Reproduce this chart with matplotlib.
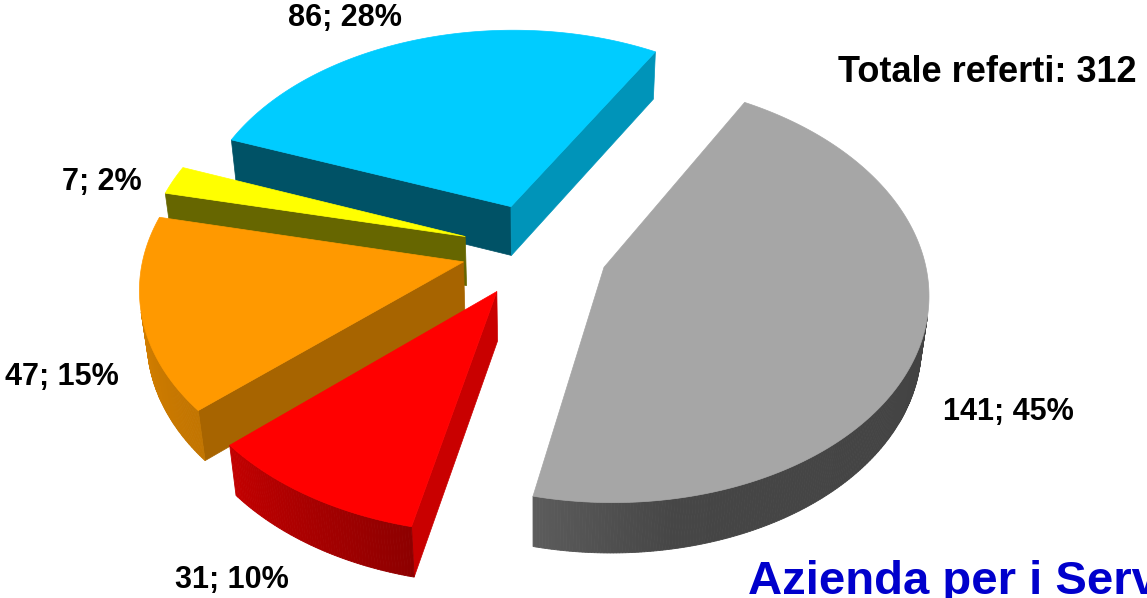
import numpy as np
import matplotlib
matplotlib.use("Agg")
import matplotlib.pyplot as plt
from matplotlib.patches import Polygon

# dati
valori = [141, 31, 47, 7, 86]
colori = ["#A6A6A6", "#FF0000", "#FF9900", "#FFFF00", "#00CCFF"]
totale = sum(valori)

# geometria della torta 3D (coordinate in pixel)
W, H = 1147, 598
CX, CY = 535, 250
S = 319.0
elev = np.radians(40.0)
D = 6.9
h = 0.205
expl = 0.23
start = 30.0

ce, se = np.cos(elev), np.sin(elev)
cam = np.array([0.0, D * ce, D * se])


def proj(X, Y, Z):
    d = Y * ce + Z * se
    k = D / (D - d)
    return CX + S * X * k, CY - S * (Z * ce - Y * se) * k


def shade(c, f):
    r, g, b = matplotlib.colors.to_rgb(c)
    return (min(r * f, 1), min(g * f, 1), min(b * f, 1))


def wall_f(t):
    t = t % 360
    return np.interp(t, [90, 170, 192, 228, 270], [0.40, 0.42, 0.55, 0.76, 0.85])


def face_f(phi):
    phi = phi % 360
    return np.interp(phi, [100, 140, 190, 210], [0.80, 0.65, 0.40, 0.40])


fig = plt.figure(figsize=(W / 100, H / 100), dpi=100)
ax = fig.add_axes([0, 0, 1, 1])
ax.set_xlim(0, W)
ax.set_ylim(H, 0)
ax.axis("off")

ang = np.cumsum([0] + valori) / totale * 360 + start
fette = []
for i in range(len(valori)):
    t1, t2 = ang[i], ang[i + 1]
    tm = np.radians((t1 + t2) / 2)
    ox, oy = expl * np.sin(tm), -expl * np.cos(tm)
    depth = oy - 0.5 * np.cos(tm)
    fette.append((depth, i, t1, t2, ox, oy))

for depth, i, t1, t2, ox, oy in sorted(fette):
    col = colori[i]
    tt = np.linspace(t1, t2, max(int((t2 - t1) * 2), 4))
    rad = np.radians(tt)
    X = ox + np.sin(rad)
    Y = oy - np.cos(rad)

    # facce radiali
    for t, sgn in ((t1, -1), (t2, 1)):
        r = np.radians(t)
        n = np.array([sgn * np.cos(r), sgn * np.sin(r), 0])
        p = np.array([ox + 0.5 * np.sin(r), oy - 0.5 * np.cos(r), -h / 2])
        if n @ (cam - p) > 0:
            xs = [ox, ox + np.sin(r), ox + np.sin(r), ox]
            ys = [oy, oy - np.cos(r), oy - np.cos(r), oy]
            zs = [0, 0, -h, -h]
            pts = [proj(a, b, c) for a, b, c in zip(xs, ys, zs)]
            phi = t + (90 if sgn > 0 else -90)
            fc = shade(col, face_f(phi))
            ax.add_patch(Polygon(pts, closed=True, fc=fc, ec=fc, lw=0.5))

    # parete esterna (a strisce per la sfumatura)
    for j in range(len(tt) - 1):
        tmid = np.radians((tt[j] + tt[j + 1]) / 2)
        n = np.array([np.sin(tmid), -np.cos(tmid), 0])
        p = np.array([ox + np.sin(tmid), oy - np.cos(tmid), -h / 2])
        if n @ (cam - p) <= 0:
            continue
        a = proj(X[j], Y[j], 0)
        b = proj(X[j + 1], Y[j + 1], 0)
        c = proj(X[j + 1], Y[j + 1], -h)
        d = proj(X[j], Y[j], -h)
        fc = shade(col, wall_f((tt[j] + tt[j + 1]) / 2))
        ax.add_patch(Polygon([a, b, c, d], closed=True, fc=fc, ec=fc, lw=0.6))

    # faccia superiore
    top = [proj(ox, oy, 0)] + [proj(x, y, 0) for x, y in zip(X, Y)]
    ax.add_patch(Polygon(top, closed=True, fc=col, ec=col, lw=0.5))

# etichette
etichette = [f"{v}; {round(100 * v / totale)}%" for v in valori]
pos = [(1008, 412), (232, 580), (62, 377), (102, 182), (345, 18)]
for (x, y), s in zip(pos, etichette):
    ax.text(x, y, s, ha="center", va="center", fontsize=22,
            fontweight="bold", family="Liberation Sans", color="black")

ax.text(838, 73, f"Totale referti: {totale}", ha="left", va="center",
        fontsize=26, fontweight="bold", family="Liberation Sans")
ax.text(748, 594, "Azienda per i Servizi Sanitari", ha="left", va="baseline",
        fontsize=34, fontweight="bold", family="Liberation Sans", color="#0000CC")

fig.savefig("out.png", dpi=100)
